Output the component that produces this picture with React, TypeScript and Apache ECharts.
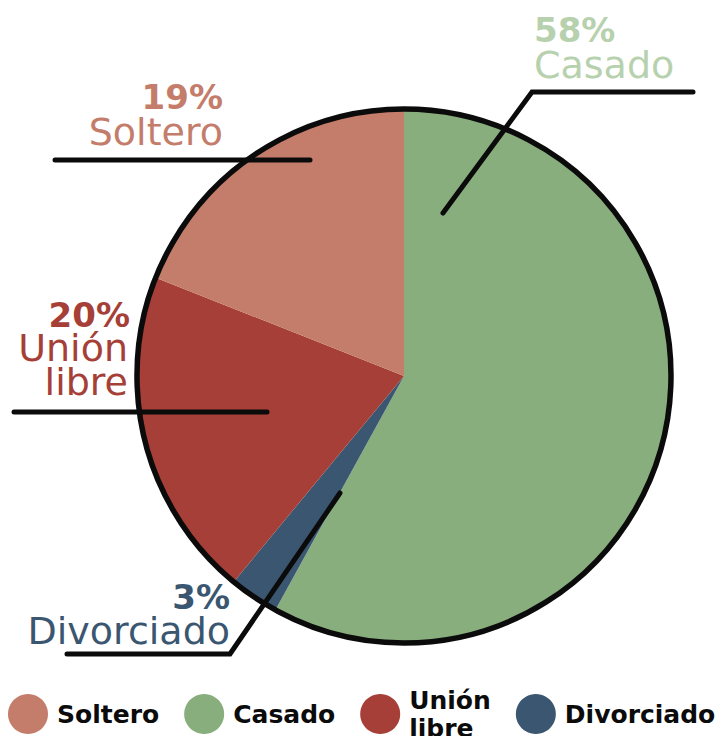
import React, { useEffect, useRef } from "react";
import * as echarts from "echarts";

const categories = ["Casado", "Divorciado", "Unión libre", "Soltero"];
const values = [58, 3, 20, 19];
const colors = ["#88AE7E", "#3B5670", "#A63F37", "#C47D6B"];
const labelColors = ["#B7D1AE", "#3B5670", "#A63F37", "#C47D6B"];
const legendOrder = ["Soltero", "Casado", "Unión libre", "Divorciado"];

export default function App() {
  const ref = useRef<HTMLDivElement>(null);
  useEffect(() => {
    document.body.style.margin = "0";
    const chart = echarts.init(ref.current!, null, { renderer: "svg" });
    const pctFont = "bold 34px 'DejaVu Sans'";
    const nameFont = "400 38px 'DejaVu Sans'";
    const txt = (s: string, x: number, y: number, font: string, fill: string, align: string, lh: number) => ({
      type: "text",
      x,
      y,
      z: 20,
      silent: true,
      style: { text: s, font, fill, align, verticalAlign: "middle", lineHeight: lh },
    });
    const line = (pts: number[][]) => ({
      type: "polyline",
      z: 30,
      silent: true,
      shape: { points: pts },
      style: { stroke: "#0b0b0b", lineWidth: 5, lineCap: "round", lineJoin: "miter", fill: null },
    });
    const idx = (n: string) => categories.indexOf(n);
    const pct = (n: string) => values[idx(n)] + "%";
    const col = (n: string) => labelColors[idx(n)];
    const graphics = [
      // Soltero
      txt(pct("Soltero"), 223, 97, pctFont, col("Soltero"), "right", 30),
      txt("Soltero", 223, 132, nameFont, col("Soltero"), "right", 32),
      line([[55, 160], [310, 160]]),
      // Casado
      txt(pct("Casado"), 534, 30, pctFont, col("Casado"), "left", 30),
      txt("Casado", 534, 65, nameFont, col("Casado"), "left", 32),
      line([[693, 92], [532, 92], [443, 213]]),
      // Unión libre
      txt(pct("Unión libre"), 130, 315, pctFont, col("Unión libre"), "right", 30),
      txt("Unión", 128, 348, nameFont, col("Unión libre"), "right", 32),
      txt("libre", 128, 382, nameFont, col("Unión libre"), "right", 32),
      line([[14, 412], [267, 412]]),
      // Divorciado
      txt(pct("Divorciado"), 230, 597, pctFont, col("Divorciado"), "right", 30),
      txt("Divorciado", 230, 631, nameFont, col("Divorciado"), "right", 32),
      line([[67, 654], [230, 654], [340, 493]]),
    ];
    chart.setOption({
      animation: false,
      legend: {
        data: legendOrder,
        left: 8,
        top: 686,
        padding: 0,
        icon: "circle",
        itemWidth: 40,
        itemHeight: 40,
        itemGap: 25,
        selectedMode: false,
        formatter: (n: string) => (n === "Unión libre" ? "Unión\nlibre" : n),
        textStyle: {
          fontFamily: "DejaVu Sans",
          fontWeight: "bold",
          fontSize: 25,
          color: "#0b0b0b",
          lineHeight: 28,
          padding: [0, 0, 0, 4],
        },
      },
      series: [
        {
          type: "pie",
          center: [404, 376],
          radius: 267,
          startAngle: 90,
          clockwise: true,
          silent: true,
          label: { show: false },
          labelLine: { show: false },
          itemStyle: { borderWidth: 0 },
          data: categories.map((c, i) => ({ name: c, value: values[i], itemStyle: { color: colors[i] } })),
        },
        {
          type: "pie",
          center: [404, 376],
          radius: 267,
          silent: true,
          z: 5,
          label: { show: false },
          labelLine: { show: false },
          legendHoverLink: false,
          data: [{ name: "__outline", value: 1, itemStyle: { color: "transparent", borderColor: "#0b0b0b", borderWidth: 5.5 } }],
        },
      ],
      graphic: graphics,
    });
    return () => chart.dispose();
  }, []);
  return <div ref={ref} style={{ width: 721, height: 736 }} />;
}
